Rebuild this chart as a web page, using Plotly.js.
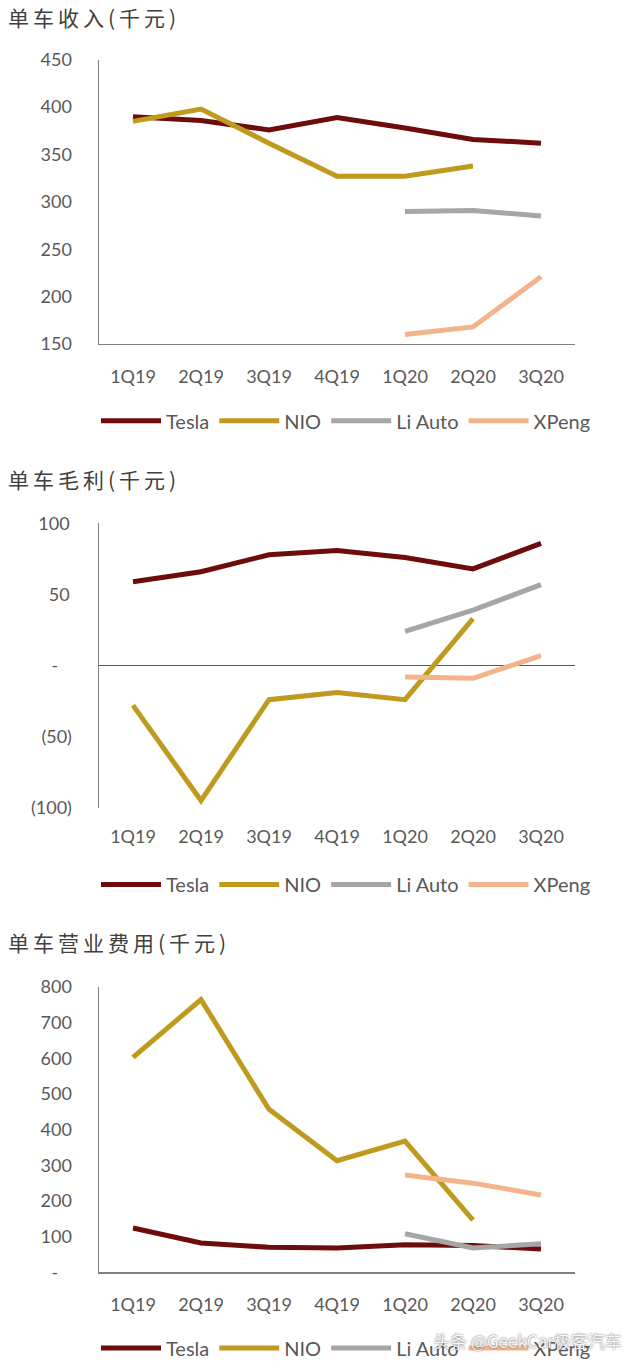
<!DOCTYPE html>
<html>
<head>
<meta charset="utf-8">
<script src="https://cdn.plot.ly/plotly-3.0.1.min.js"></script>
<style>
  html, body { margin: 0; padding: 0; background: #fff; }
  #plot { width: 640px; height: 1368px; }
</style>
</head>
<body>
<div id="plot"></div>
<script>
// quarters on the x axis, shared by all three panels
var quarters = ["1Q19", "2Q19", "3Q19", "4Q19", "1Q20", "2Q20", "3Q20"];
var names = ["Tesla", "NIO", "Li Auto", "XPeng"];
var colors = ["#6e0b0b", "#bf9a1e", "#a6a6a6", "#f3b48c"];

// 单车收入 (revenue per car, k RMB)
var revTesla = [390, 386, 376, 389, 378, 366, 362];
var revNio   = [385, 398, 362, 327, 327, 338, null];
var revLi    = [null, null, null, null, 290, 291, 285];
var revXp    = [null, null, null, null, 160, 168, 221];

// 单车毛利 (gross profit per car)
var gpTesla = [59, 66, 78, 81, 76, 68, 86];
var gpNio   = [-28, -95, -24, -19, -24, 33, null];
var gpLi    = [null, null, null, null, 24, 39, 57];
var gpXp    = [null, null, null, null, -8, -9, 7];

// 单车营业费用 (operating expense per car)
var opTesla = [124, 82, 70, 68, 77, 75, 65];
var opNio   = [603, 765, 457, 313, 368, 146, null];
var opLi    = [null, null, null, null, 108, 68, 80];
var opXp    = [null, null, null, null, 273, 250, 217];

var titles = ["单车收入(千元)", "单车毛利(千元)", "单车营业费用(千元)"];

var W = 640, H = 1368;
function py(px) { return 1 - px / H; }   // pixel row -> paper y

var panels = [
  {series: [revTesla, revNio, revLi, revXp], top: 60, bottom: 345, legendY: 422, titleY: 17},
  {series: [gpTesla, gpNio, gpLi, gpXp], top: 525, bottom: 810, legendY: 887, titleY: 480},
  {series: [opTesla, opNio, opLi, opXp], top: 990, bottom: 1276, legendY: 1352, titleY: 945}
];

var numFont = "Lato, 'Liberation Sans', sans-serif";
var gray = "#595959";
var axisColor = "#808080";

var traces = [];
panels.forEach(function(p, k) {
  var sfx = k == 0 ? "" : String(k + 1);
  p.series.forEach(function(ys, i) {
    traces.push({
      x: quarters, y: ys, type: "scatter", mode: "lines",
      name: names[i], xaxis: "x" + sfx, yaxis: "y" + sfx,
      legend: "legend" + sfx, connectgaps: false,
      line: {color: colors[i], width: 5, shape: "linear"},
      hoverinfo: "none"
    });
  });
});

var layout = {
  width: W, height: H,
  margin: {l: 0, r: 0, t: 0, b: 0},
  paper_bgcolor: "#fff", plot_bgcolor: "#fff",
  font: {family: numFont, color: gray, size: 18},
  annotations: []
};

var xDomain = [99 / W, 575 / W];
var yRanges = [[150, 450], [-100, 100], [0, 800]];
var yTicks = [
  {vals: [150, 200, 250, 300, 350, 400, 450], text: ["150", "200", "250", "300", "350", "400", "450"]},
  {vals: [-100, -50, 0, 50, 100], text: ["(100)", "(50)", "-\u00a0\u00a0\u00a0", "50\u2009", "100\u2009"]},
  {vals: [0, 100, 200, 300, 400, 500, 600, 700, 800], text: ["-\u00a0\u00a0\u00a0", "100", "200", "300", "400", "500", "600", "700", "800"]}
];

panels.forEach(function(p, k) {
  var sfx = k == 0 ? "" : String(k + 1);
  layout["xaxis" + sfx] = {
    domain: xDomain, anchor: "y" + sfx, type: "category",
    range: [-0.5, 6.5], showgrid: false, zeroline: false,
    showline: k != 1, linecolor: axisColor, linewidth: 1.5,
    ticks: "", ticklabelstandoff: 16,
    tickfont: {family: numFont, size: 18, color: gray}
  };
  layout["yaxis" + sfx] = {
    domain: [py(p.bottom), py(p.top)], anchor: "x" + sfx,
    range: yRanges[k], showgrid: false,
    zeroline: k == 1, zerolinecolor: "#595959", zerolinewidth: 1.5,
    showline: true, linecolor: axisColor, linewidth: 1.5,
    ticks: "", ticklabelstandoff: 22,
    tickmode: "array", tickvals: yTicks[k].vals, ticktext: yTicks[k].text,
    tickfont: {family: numFont, size: 18, color: gray}
  };
  layout["legend" + sfx] = {
    orientation: "h", x: 96 / W, xanchor: "left",
    y: py(p.legendY), yanchor: "middle",
    bgcolor: "rgba(0,0,0,0)", itemwidth: 60, tracegroupgap: 0,
    font: {family: numFont, size: 20, color: gray},
    itemclick: false, itemdoubleclick: false
  };
  layout.annotations.push({
    text: titles[k], xref: "paper", yref: "paper",
    x: 6 / W, y: py(p.titleY), xanchor: "left", yanchor: "middle",
    align: "left", showarrow: false,
    font: {family: "'Noto Sans CJK SC', sans-serif", size: 21, color: "#404040"}
  });
});

// watermark left on the source image
layout.annotations.push({
  text: "头条 @GeekCar极客汽车", xref: "paper", yref: "paper",
  x: 624 / W, y: py(1344), xanchor: "right", yanchor: "middle", showarrow: false,
  font: {family: "'Noto Sans CJK SC', sans-serif", size: 17, color: "rgba(255,255,255,0.95)",
         shadow: "0px 0px 2px #444"}
});

Plotly.newPlot("plot", traces, layout, {staticPlot: true, displayModeBar: false}).then(function(gd) {
  // the panel titles are set with wide letter spacing, growing to the right
  var txt = gd.querySelectorAll(".annotation-text");
  for (var i = 0; i < 3 && i < txt.length; i++) {
    txt[i].style.letterSpacing = "4px";
    txt[i].setAttribute("text-anchor", "start");
  }
});
</script>
</body>
</html>
